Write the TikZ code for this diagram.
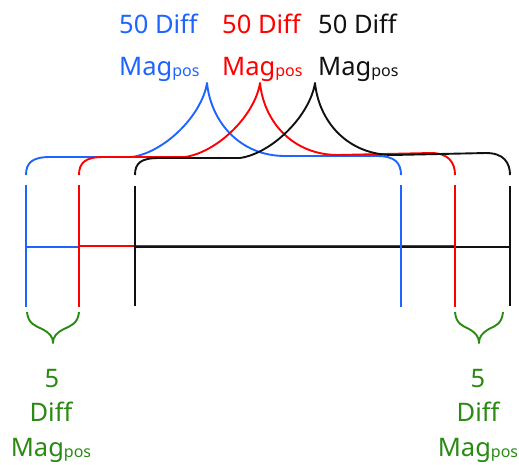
\documentclass[tikz,border=0pt]{standalone}
\usepackage{fontspec}
\setmainfont[Ligatures=NoCommon]{Noto Sans}
\definecolor{cblue}{HTML}{1E64FF}
\definecolor{cred}{HTML}{FF0000}
\definecolor{cblack}{HTML}{111111}
\definecolor{cgreen}{HTML}{2A8A14}
\newcommand\possub{\raisebox{-1pt}{\fontsize{16}{16}\selectfont pos}}
\tikzset{
  ln/.style={line width=1.9pt, line join=round},
  lbl/.style={inner sep=0pt, font=\fontsize{25.5}{30}\selectfont},
}
\begin{document}
\begin{tikzpicture}[x=1pt,y=-1pt]
\useasboundingbox (0,0) rectangle (519,464);
% top labels
\node[lbl, text=cblue, anchor=base west] (b1) at (119,33) {50 Diff};
\node[lbl, text=cblue, anchor=base west] (b2) at (119,75) {Mag\possub};
\node[lbl, text=cred, anchor=base west] (r1) at (222,33) {50 Diff};
\node[lbl, text=cred, anchor=base west] (r2) at (222,75) {Mag\possub};
\node[lbl, text=cblack, anchor=base west] (k1) at (318,33) {50 Diff};
\node[lbl, text=cblack, anchor=base west] (k2) at (318,75) {Mag\possub};
% top braces
\draw[ln, cblue] (26,175) .. controls (26,163) and (32,157) .. (50,157) -- (132,157)
  .. controls (165,152) and (202,115) .. (207,83)
  .. controls (211,122) and (240,156) .. (285,156) -- (377,156)
  .. controls (395,156) and (401,163) .. (401,175);
\draw[ln, cred] (79,175) .. controls (79,163) and (85,157) .. (103,157) -- (185,157)
  .. controls (218,152) and (255,115) .. (260,83)
  .. controls (264,122) and (293,155) .. (338,155) -- (431,153)
  .. controls (449,153) and (455,163) .. (455,175);
\draw[ln, cblack] (135,175) .. controls (135,163) and (141,158) .. (159,158) -- (240,158)
  .. controls (273,153) and (310,115) .. (315,83)
  .. controls (319,122) and (348,155) .. (393,155) -- (486,153)
  .. controls (504,153) and (510,163) .. (510,175);
% horizontal lines
\draw[ln, cblue] (26,247) -- (79,247);
\draw[ln, cred] (79,245.6) -- (455,245.6);
\draw[ln, cblack] (135,247.4) -- (510,247.4);
% vertical lines
\draw[ln, cblue] (26,185) -- (26,307);
\draw[ln, cred] (79,185) -- (79,307);
\draw[ln, cblack] (135,186) -- (135,306);
\draw[ln, cblue] (401,185) -- (401,307);
\draw[ln, cred] (455,185) -- (455,307);
\draw[ln, cblack] (510,186) -- (510,306);
% bottom braces
\begin{scope}[xshift=53pt]
\draw[ln, cgreen] (-26,312) .. controls (-25,324) and (-17,326) .. (-11,329)
  .. controls (-3,333) and (0,337) .. (0,343)
  .. controls (0,337) and (3,333) .. (11,329)
  .. controls (17,326) and (25,324) .. (26,312);
\end{scope}
\begin{scope}[xshift=479pt]
\draw[ln, cgreen] (-24,312) .. controls (-23,324) and (-16,326) .. (-10,329)
  .. controls (-3,333) and (0,337) .. (0,343)
  .. controls (0,337) and (3,333) .. (10,329)
  .. controls (16,326) and (23,324) .. (24,312);
\end{scope}
% bottom labels
\node[lbl, text=cgreen, anchor=base] (g1) at (52,387) {5};
\node[lbl, text=cgreen, anchor=base] (g2) at (51,421) {Diff};
\node[lbl, text=cgreen, anchor=base] (g3) at (51,456) {Mag\possub};
\node[lbl, text=cgreen, anchor=base] (h1) at (478,387) {5};
\node[lbl, text=cgreen, anchor=base] (h2) at (478,421) {Diff};
\node[lbl, text=cgreen, anchor=base] (h3) at (478,456) {Mag\possub};
\end{tikzpicture}
\end{document}
